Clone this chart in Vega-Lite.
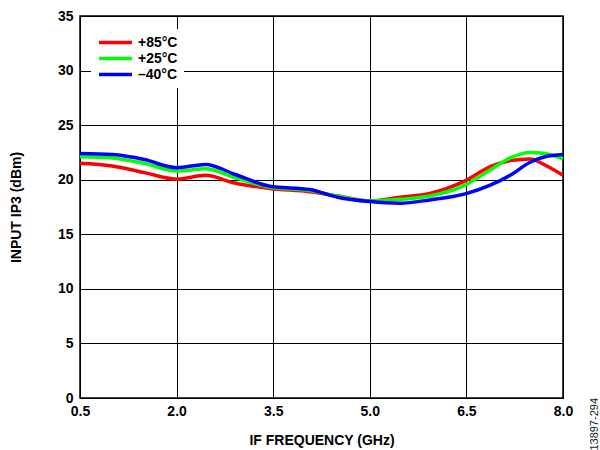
{
  "$schema": "https://vega.github.io/schema/vega-lite/v6.json",
  "autosize": "none",
  "width": 483,
  "height": 382,
  "padding": {"left": 80, "top": 16, "right": 37, "bottom": 52},
  "background": "white",
  "config": {
    "font": "Liberation Sans",
    "view": {"stroke": "black", "strokeWidth": 1.5},
    "axis": {
      "domain": false,
      "ticks": false,
      "grid": true,
      "gridColor": "black",
      "gridOpacity": 1,
      "gridWidth": 1,
      "labelFont": "Liberation Sans",
      "labelFontWeight": "bold",
      "labelFontSize": 14,
      "labelColor": "black",
      "titleFont": "Liberation Sans",
      "titleFontWeight": "bold",
      "titleFontSize": 14,
      "titleColor": "black"
    }
  },
  "title": {
    "text": "13897-294",
    "orient": "right",
    "anchor": "end",
    "frame": "group",
    "angle": -90,
    "fontSize": 11,
    "fontWeight": "normal",
    "color": "#222",
    "offset": 5
  },
  "data": {
    "values": [
      {"f": 0.5, "v": 21.5, "s": "+85°C"},
      {"f": 1.0, "v": 21.25, "s": "+85°C"},
      {"f": 1.5, "v": 20.65, "s": "+85°C"},
      {"f": 2.0, "v": 20.05, "s": "+85°C"},
      {"f": 2.45, "v": 20.4, "s": "+85°C"},
      {"f": 2.9, "v": 19.7, "s": "+85°C"},
      {"f": 3.45, "v": 19.2, "s": "+85°C"},
      {"f": 4.07, "v": 18.9, "s": "+85°C"},
      {"f": 4.5, "v": 18.5, "s": "+85°C"},
      {"f": 5.0, "v": 18.05, "s": "+85°C"},
      {"f": 5.47, "v": 18.4, "s": "+85°C"},
      {"f": 5.93, "v": 18.75, "s": "+85°C"},
      {"f": 6.48, "v": 19.9, "s": "+85°C"},
      {"f": 6.87, "v": 21.2, "s": "+85°C"},
      {"f": 7.18, "v": 21.75, "s": "+85°C"},
      {"f": 7.49, "v": 21.9, "s": "+85°C"},
      {"f": 7.72, "v": 21.35, "s": "+85°C"},
      {"f": 8.0, "v": 20.4, "s": "+85°C"},
      {"f": 0.5, "v": 22.1, "s": "+25°C"},
      {"f": 1.0, "v": 22.0, "s": "+25°C"},
      {"f": 1.5, "v": 21.5, "s": "+25°C"},
      {"f": 2.0, "v": 20.8, "s": "+25°C"},
      {"f": 2.45, "v": 21.0, "s": "+25°C"},
      {"f": 2.9, "v": 20.2, "s": "+25°C"},
      {"f": 3.45, "v": 19.3, "s": "+25°C"},
      {"f": 4.07, "v": 19.0, "s": "+25°C"},
      {"f": 4.5, "v": 18.5, "s": "+25°C"},
      {"f": 5.0, "v": 18.05, "s": "+25°C"},
      {"f": 5.47, "v": 18.2, "s": "+25°C"},
      {"f": 5.93, "v": 18.5, "s": "+25°C"},
      {"f": 6.48, "v": 19.5, "s": "+25°C"},
      {"f": 6.87, "v": 20.9, "s": "+25°C"},
      {"f": 7.18, "v": 22.0, "s": "+25°C"},
      {"f": 7.49, "v": 22.5, "s": "+25°C"},
      {"f": 7.72, "v": 22.4, "s": "+25°C"},
      {"f": 8.0, "v": 21.9, "s": "+25°C"},
      {"f": 0.5, "v": 22.4, "s": "–40°C"},
      {"f": 1.0, "v": 22.3, "s": "–40°C"},
      {"f": 1.5, "v": 21.85, "s": "–40°C"},
      {"f": 2.0, "v": 21.1, "s": "–40°C"},
      {"f": 2.45, "v": 21.4, "s": "–40°C"},
      {"f": 2.9, "v": 20.5, "s": "–40°C"},
      {"f": 3.45, "v": 19.4, "s": "–40°C"},
      {"f": 4.07, "v": 19.1, "s": "–40°C"},
      {"f": 4.5, "v": 18.4, "s": "–40°C"},
      {"f": 5.0, "v": 18.0, "s": "–40°C"},
      {"f": 5.47, "v": 17.85, "s": "–40°C"},
      {"f": 5.93, "v": 18.15, "s": "–40°C"},
      {"f": 6.48, "v": 18.7, "s": "–40°C"},
      {"f": 6.87, "v": 19.5, "s": "–40°C"},
      {"f": 7.18, "v": 20.4, "s": "–40°C"},
      {"f": 7.49, "v": 21.6, "s": "–40°C"},
      {"f": 7.72, "v": 22.1, "s": "–40°C"},
      {"f": 8.0, "v": 22.3, "s": "–40°C"}
    ]
  },
  "mark": {"type": "line", "interpolate": "monotone", "strokeWidth": 3.5},
  "encoding": {
    "x": {
      "field": "f",
      "type": "quantitative",
      "scale": {"domain": [0.5, 8.0], "nice": false, "zero": false},
      "axis": {
        "values": [0.5, 2.0, 3.5, 5.0, 6.5, 8.0],
        "format": ".1f",
        "title": "IF FREQUENCY (GHz)",
        "labelPadding": 6,
        "titlePadding": 15,
        "labelFlush": false
      }
    },
    "y": {
      "field": "v",
      "type": "quantitative",
      "scale": {"domain": [0, 35], "nice": false},
      "axis": {
        "values": [0, 5, 10, 15, 20, 25, 30, 35],
        "title": "INPUT IP3 (dBm)",
        "labelPadding": 7,
        "titlePadding": 34
      }
    },
    "color": {
      "field": "s",
      "type": "nominal",
      "scale": {"domain": ["+85°C", "+25°C", "–40°C"], "range": ["#ff0000", "#00ff00", "#0000ff"]},
      "legend": {
        "orient": "none",
        "legendX": 11,
        "legendY": 13,
        "title": null,
        "fillColor": "white",
        "padding": 6,
        "symbolType": "M-1,0H5",
        "symbolSize": 121,
        "symbolStrokeWidth": 3.5,
        "labelFont": "Liberation Sans",
        "labelFontWeight": "bold",
        "labelFontSize": 14,
        "labelColor": "black",
        "labelOffset": 26,
        "rowPadding": 1
      }
    }
  }
}
